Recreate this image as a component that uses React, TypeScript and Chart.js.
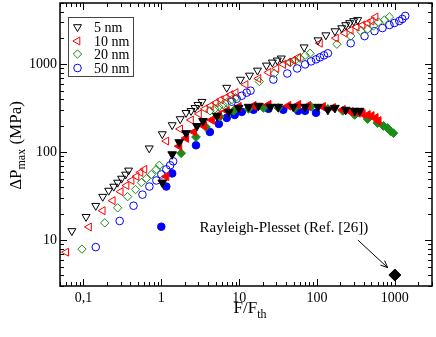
import React, { useEffect, useRef } from "react";
import { Chart, registerables } from "chart.js";
import { drawPoint } from "chart.js/helpers";
Chart.register(...registerables);

const FONT = "'Liberation Serif', 'Times New Roman', serif";

// Axis ticks
const xTickValues = [0.1, 1, 10, 100, 1000];
const xTickLabels = ["0,1", "1", "10", "100", "1000"];
const yTickValues = [10, 100, 1000];
const yTickLabels = ["10", "100", "1000"];

// Series labels
const seriesLabels = ["5 nm", "10 nm", "20 nm", "50 nm"];
const seriesColors = ["#000000", "#ff0000", "#1a8c1a", "#0000ff"];

// Open symbols: F/Fth and ΔPmax (MPa)
const f5Open = [0.071, 0.108, 0.144, 0.177, 0.211, 0.245, 0.275, 0.309, 0.348, 0.38, 0.70, 1.03, 1.38, 1.75, 2.08, 2.41, 2.71, 2.96, 3.33, 6.93, 10.4, 13.6, 17.2, 22.4, 26.7, 30.9, 34.8, 68.3, 103, 130, 170, 208, 234, 263, 296, 333];
const p5Open = [12.7, 18.4, 24.6, 31.2, 36.6, 40.7, 45.2, 50.2, 55.9, 62.1, 111, 161, 204, 239, 281, 296, 320, 347, 376, 544, 672, 748, 853, 974, 1054, 1112, 1173, 1568, 1888, 2153, 2393, 2592, 2808, 2960, 3121, 3206];

const f10Open = [0.060, 0.118, 0.177, 0.238, 0.301, 0.358, 0.415, 0.481, 0.540, 0.607, 1.16, 1.75, 2.41, 3.05, 3.64, 4.33, 5.02, 5.81, 6.73, 7.79, 9.02, 12.1, 17.7, 23.8, 30.1, 36.9, 42.7, 49.5, 57.3, 109, 175, 227, 271, 323, 385, 447, 502, 565];
const p10Open = [7.28, 14.1, 21.6, 28.1, 35.6, 41.8, 47.7, 53.0, 58.9, 63.8, 134, 184, 233, 273, 312, 338, 366, 396, 418, 452, 477, 589, 690, 809, 899, 1000, 1054, 1112, 1203, 1743, 1990, 2271, 2460, 2662, 2808, 2960, 3121, 3467];

const f20Open = [0.0957, 0.188, 0.275, 0.369, 0.467, 0.556, 0.644, 0.746, 0.864, 0.943, 4.21, 4.88, 5.48, 6.17, 6.93, 8.02, 9.02, 18.2, 28.3, 45.3, 52.5, 60.7, 70.3, 81.4, 180, 271, 364, 447, 532, 617, 735, 851];
const p20Open = [7.89, 15.7, 23.3, 31.2, 37.6, 45.2, 50.2, 55.9, 63.8, 71.0, 296, 312, 329, 347, 366, 396, 418, 638, 788, 1054, 1112, 1173, 1268, 1337, 1698, 2099, 2393, 2523, 2735, 3039, 3206, 3467];

const f50Open = [0.144, 0.292, 0.440, 0.573, 0.703, 0.864, 1.0, 1.16, 1.30, 1.42, 8.02, 9.29, 10.8, 12.5, 14.0, 27.5, 41.5, 55.6, 70.3, 83.9, 97.1, 109, 123, 138, 271, 408, 548, 693, 851, 986, 1141, 1247, 1361];
const p50Open = [8.31, 16.5, 24.6, 32.9, 40.7, 47.7, 55.9, 63.8, 71.0, 78.8, 376, 406, 440, 477, 502, 672, 788, 899, 1000, 1082, 1141, 1203, 1268, 1337, 1743, 2099, 2393, 2592, 2808, 2960, 3121, 3289, 3565];

// Filled symbols
const f5Filled = [1.03, 1.38, 1.70, 2.08, 2.87, 3.43, 5.17, 7.35, 9.86, 13.2, 17.7, 25.2, 31.8, 49.5, 70.3, 103, 138, 170, 234, 305, 353];
const p5Filled = [45.2, 94.8, 130, 165, 199, 227, 259, 288, 320, 329, 338, 329, 329, 329, 329, 329, 304, 320, 304, 296, 296];

const f10Filled = [1.16, 1.70, 2.08, 2.63, 3.53, 4.46, 5.48, 6.93, 9.86, 15.3, 23.8, 42.7, 57.3, 76.8, 119, 160, 214, 271, 333, 385, 447, 502, 565, 617];
const p10Filled = [53.0, 117, 145, 170, 199, 233, 266, 296, 329, 338, 347, 338, 347, 338, 329, 320, 304, 288, 281, 273, 266, 259, 246, 227];

const f20Filled = [1.80, 2.79, 3.74, 5.65, 8.51, 13.2, 20.5, 31.8, 52.5, 83.9, 138, 214, 305, 447, 598, 714, 802, 877, 958];
const p20Filled = [97.4, 149, 194, 253, 296, 312, 320, 320, 320, 329, 312, 296, 266, 239, 215, 199, 189, 174, 165];

const f50Filled = [1.0, 1.16, 1.38, 2.79, 4.21, 5.48, 6.93, 8.76, 10.8, 15.3, 23.8, 36.9, 57.3, 70.3, 97.1];
const p50Filled = [14.2, 40.7, 57.4, 120, 170, 210, 246, 266, 288, 304, 312, 304, 296, 296, 281];

// Rayleigh-Plesset reference point
const fRayleigh = [1000];
const pRayleigh = [4.0];

const annotationText = "Rayleigh-Plesset (Ref. [26])";

const styles = [
  { pointStyle: "triangle", rotation: 180 },
  { pointStyle: "triangle", rotation: 270 },
  { pointStyle: "rectRot", rotation: 0 },
  { pointStyle: "circle", rotation: 0 },
];
const openRadius = [4.6, 4.6, 4.2, 3.8];
const filledRadius = [5.0, 5.0, 4.4, 3.8];

const toPts = (xs: number[], ys: number[]) => xs.map((x, i) => ({ x, y: ys[i] }));

function openDs(i: number, xs: number[], ys: number[]) {
  return {
    label: seriesLabels[i],
    data: toPts(xs, ys),
    showLine: false,
    pointStyle: styles[i].pointStyle,
    pointRotation: styles[i].rotation,
    pointRadius: openRadius[i],
    pointBorderWidth: 1,
    pointBorderColor: seriesColors[i],
    pointBackgroundColor: "rgba(0,0,0,0)",
    isOpen: true,
  };
}
function filledDs(i: number, xs: number[], ys: number[]) {
  return {
    label: seriesLabels[i] + " filled",
    data: toPts(xs, ys),
    showLine: false,
    pointStyle: styles[i].pointStyle,
    pointRotation: styles[i].rotation,
    pointRadius: filledRadius[i],
    pointBorderWidth: 1,
    pointBorderColor: seriesColors[i],
    pointBackgroundColor: seriesColors[i],
  };
}

const frameTicks = {
  id: "frameTicks",
  afterDatasetsDraw(chart: any) {
    const { ctx, chartArea: a, scales } = chart;
    const xs = scales.x, ys = scales.y;
    ctx.save();
    ctx.strokeStyle = "#000";
    const list = (min: number, max: number) => {
      const out: { v: number; major: boolean }[] = [];
      for (let e = Math.floor(Math.log10(min)) - 1; e <= Math.ceil(Math.log10(max)); e++) {
        for (let m = 1; m < 10; m++) {
          const v = m * Math.pow(10, e);
          if (v >= min * 0.999 && v <= max * 1.001) out.push({ v, major: m === 1 });
        }
      }
      return out;
    };
    ctx.lineWidth = 1;
    ctx.beginPath();
    for (const { v, major } of list(xs.min, xs.max)) {
      const px = Math.round(xs.getPixelForValue(v)) + 0.5;
      const L = major ? 7 : 4;
      ctx.moveTo(px, a.bottom); ctx.lineTo(px, a.bottom - L);
      ctx.moveTo(px, a.top); ctx.lineTo(px, a.top + L);
    }
    for (const { v, major } of list(ys.min, ys.max)) {
      const py = Math.round(ys.getPixelForValue(v)) + 0.5;
      const L = major ? 7 : 4;
      ctx.moveTo(a.left, py); ctx.lineTo(a.left + L, py);
      ctx.moveTo(a.right, py); ctx.lineTo(a.right - L, py);
    }
    ctx.stroke();
    ctx.lineWidth = 1.5;
    ctx.strokeRect(a.left, a.top, a.right - a.left, a.bottom - a.top);
    ctx.restore();
  },
};

const decorations = {
  id: "decorations",
  afterDraw(chart: any) {
    const { ctx, chartArea: a, scales } = chart;
    const xs = scales.x, ys = scales.y;
    ctx.save();
    ctx.fillStyle = "#000";
    ctx.textBaseline = "alphabetic";

    // Legend box
    const bx = 68, by = 17, bw = 65, bh = 59;
    ctx.fillStyle = "#fff";
    ctx.fillRect(bx, by, bw, bh);
    ctx.strokeStyle = "#444";
    ctx.lineWidth = 1;
    ctx.strokeRect(bx + 0.5, by + 0.5, bw, bh);
    const rows = [27, 41, 54, 68];
    const openSets = chart.data.datasets.filter((d: any) => d.isOpen);
    openSets.forEach((d: any, i: number) => {
      ctx.strokeStyle = d.pointBorderColor;
      ctx.fillStyle = d.pointBackgroundColor;
      ctx.lineWidth = 1;
      drawPoint(ctx, { pointStyle: d.pointStyle, rotation: d.pointRotation, radius: d.pointRadius, borderWidth: 1 }, 77.5, rows[i]);
      ctx.fillStyle = "#000";
      ctx.font = `14px ${FONT}`;
      ctx.textAlign = "left";
      ctx.fillText(d.label, 94, rows[i] + 5);
    });

    // Annotation
    ctx.fillStyle = "#000";
    ctx.font = `15px ${FONT}`;
    ctx.textAlign = "left";
    ctx.fillText(annotationText, xs.getPixelForValue(3.1), ys.getPixelForValue(14.2) + 5);
    const x1 = xs.getPixelForValue(335), y1 = ys.getPixelForValue(10);
    const x2 = xs.getPixelForValue(810), y2 = ys.getPixelForValue(4.85);
    ctx.strokeStyle = "#000";
    ctx.lineWidth = 1;
    ctx.beginPath(); ctx.moveTo(x1, y1); ctx.lineTo(x2, y2); ctx.stroke();
    const ang = Math.atan2(y2 - y1, x2 - x1);
    const hl = 7, hw = 3;
    ctx.beginPath();
    ctx.moveTo(x2, y2);
    ctx.lineTo(x2 - hl * Math.cos(ang) + hw * Math.sin(ang), y2 - hl * Math.sin(ang) - hw * Math.cos(ang));
    ctx.moveTo(x2, y2);
    ctx.lineTo(x2 - hl * Math.cos(ang) - hw * Math.sin(ang), y2 - hl * Math.sin(ang) + hw * Math.cos(ang));
    ctx.stroke();

    // X title F/F_th
    const big = `17px ${FONT}`, small = `12px ${FONT}`;
    ctx.font = big;
    const w1 = ctx.measureText("F/F").width;
    ctx.font = small;
    const w2 = ctx.measureText("th").width;
    const cx = (a.left + a.right) / 2 + 4;
    let sx = cx - (w1 + w2) / 2;
    ctx.font = big;
    ctx.fillText("F/F", sx, 313);
    ctx.font = small;
    ctx.fillText("th", sx + w1, 318);

    // Y title ΔP_max (MPa)
    ctx.save();
    ctx.translate(21, (a.top + a.bottom) / 2 + 1);
    ctx.rotate(-Math.PI / 2);
    ctx.font = big;
    const t1 = ctx.measureText("ΔP").width;
    const t3 = ctx.measureText(" (MPa)").width;
    ctx.font = small;
    const t2 = ctx.measureText("max").width;
    let s = -(t1 + t2 + t3) / 2;
    ctx.font = big;
    ctx.fillText("ΔP", s, 0);
    ctx.font = small;
    ctx.fillText("max", s + t1, 4);
    ctx.font = big;
    ctx.fillText(" (MPa)", s + t1 + t2, 0);
    ctx.restore();

    ctx.restore();
  },
};

export default function App() {
  const ref = useRef<HTMLCanvasElement>(null);
  useEffect(() => {
    document.body.style.margin = "0";
    const canvas = ref.current!;
    const datasets: any[] = [
      {
        label: "Rayleigh-Plesset",
        data: toPts(fRayleigh, pRayleigh),
        showLine: false,
        pointStyle: "rectRot",
        pointRadius: 6,
        pointBorderColor: "#000",
        pointBackgroundColor: "#000",
      },
      filledDs(0, f5Filled, p5Filled),
      filledDs(1, f10Filled, p10Filled),
      filledDs(2, f20Filled, p20Filled),
      filledDs(3, f50Filled, p50Filled),
      openDs(0, f5Open, p5Open),
      openDs(1, f10Open, p10Open),
      openDs(2, f20Open, p20Open),
      openDs(3, f50Open, p50Open),
    ];
    const chart = new Chart(canvas, {
      type: "scatter",
      data: { datasets },
      plugins: [frameTicks, decorations],
      options: {
        animation: false,
        responsive: false,
        devicePixelRatio: 1,
        layout: { autoPadding: false, padding: { top: 3, right: 4, left: 0, bottom: 0 } },
        plugins: { legend: { display: false }, tooltip: { enabled: false } },
        scales: {
          x: {
            type: "logarithmic",
            min: 0.05,
            max: 3000,
            grid: { display: false, drawTicks: false },
            border: { display: false },
            afterBuildTicks: (scale: any) => {
              scale.ticks = xTickValues.map((v) => ({ value: v }));
            },
            afterFit: (scale: any) => {
              scale.height = 51;
              scale.paddingLeft = 0;
              scale.paddingRight = 0;
            },
            ticks: {
              autoSkip: false,
              maxRotation: 0,
              padding: 4,
              color: "#000",
              font: { family: FONT, size: 14 },
              callback: (v: any) => {
                const i = xTickValues.indexOf(Number(v));
                return i >= 0 ? xTickLabels[i] : "";
              },
            },
          },
          y: {
            type: "logarithmic",
            min: 3,
            max: 5000,
            grid: { display: false, drawTicks: false },
            border: { display: false },
            afterBuildTicks: (scale: any) => {
              scale.ticks = yTickValues.map((v) => ({ value: v }));
            },
            afterFit: (scale: any) => {
              scale.width = 60;
              scale.paddingTop = 0;
              scale.paddingBottom = 0;
            },
            ticks: {
              autoSkip: false,
              padding: 3,
              color: "#000",
              font: { family: FONT, size: 14 },
              callback: (v: any) => {
                const i = yTickValues.indexOf(Number(v));
                return i >= 0 ? yTickLabels[i] : "";
              },
            },
          },
        },
      } as any,
    });
    return () => chart.destroy();
  }, []);
  return <canvas ref={ref} width={436} height={337} style={{ display: "block" }} />;
}
